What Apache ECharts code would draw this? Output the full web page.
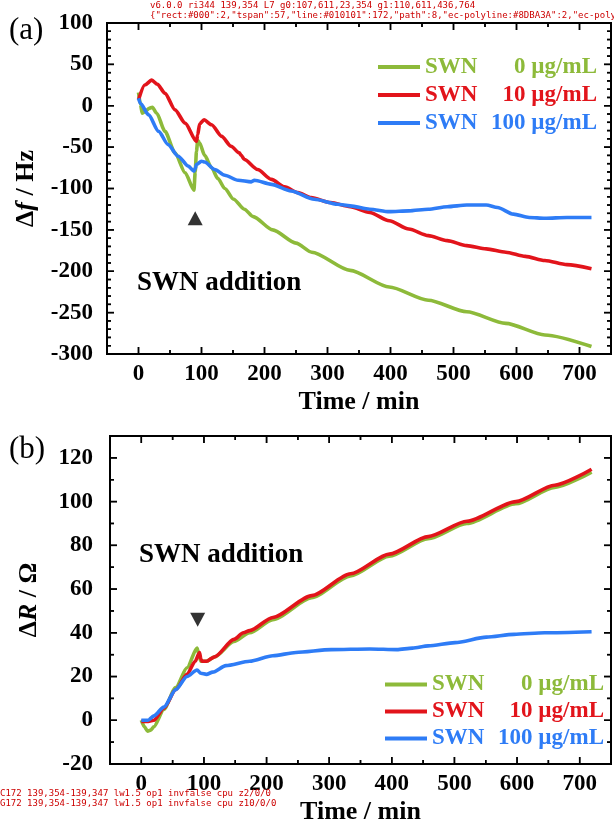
<!DOCTYPE html>
<html>
<head>
<meta charset="utf-8">
<script src="https://cdn.jsdelivr.net/npm/echarts@6/dist/echarts.min.js"></script>
<style>
  html, body { margin: 0; padding: 0; background: #ffffff; }
  #chart { width: 614px; height: 826px; }
  #dbg { position: absolute; left: 150px; top: 0; width: 464px; font: 9px monospace; line-height: 10px;
         color: #c00; white-space: pre; overflow: hidden; }
  #dbg2 { position: absolute; left: 0; top: 788px; width: 290px; font: 9px monospace; line-height: 10px;
         color: #c00; white-space: pre; overflow: hidden; }
</style>
</head>
<body>
<div id="chart"></div>
<div id="dbg"></div>
<div id="dbg2"></div>
<script>
const dbg = [];
window.addEventListener('error', e => dbg.push('E:' + e.message));

// ---- series names and legend labels ----
const seriesNames = ['SWN 0 µg/mL', 'SWN 10 µg/mL', 'SWN 100 µg/mL'];
const concLabels = ['0 µg/mL', '10 µg/mL', '100 µg/mL'];

// ---- axis ticks ----
const timeMajor = [0, 100, 200, 300, 400, 500, 600, 700];
const timeMinor = [50, 150, 250, 350, 450, 550, 650];
const freqMajor = [-300, -250, -200, -150, -100, -50, 0, 50, 100];
const freqMinor = [-290, -280, -270, -260, -240, -230, -220, -210, -190, -180, -170, -160,
  -140, -130, -120, -110, -90, -80, -70, -60, -40, -30, -20, -10, 10, 20, 30, 40, 60, 70, 80, 90];
const resMajor = [-20, 0, 20, 40, 60, 80, 100, 120];
const resMinor = [-10, 10, 30, 50, 70, 90, 110];

// ---- (a) frequency shift, Hz ----
const freq0 = [[0, 16], [3, 2], [6, -9], [12, -6], [17, -3], [22, -2], [29, -9], [42, -31], [58, -57],
  [74, -81], [88, -102], [90, -80], [92, -55], [94, -42], [97, -45], [105, -60], [116, -75],
  [126, -88], [137, -100], [151, -113], [168, -125], [182, -134], [213, -150], [250, -166],
  [275, -177], [336, -199], [398, -219], [460, -235], [521, -249], [583, -263], [645, -277], [719, -291]];
const freq10 = [[0, 7], [10, 25], [21, 31], [30, 26], [42, 15], [58, -5], [74, -21], [92, -43],
  [94, -35], [97, -22], [104, -17], [116, -23], [132, -37], [147, -49], [160, -57], [163, -60],
  [168, -65], [189, -77], [211, -89], [232, -98], [253, -105], [274, -111], [305, -117], [336, -122],
  [367, -129], [398, -139], [429, -149], [460, -157], [490, -163], [521, -169], [552, -173],
  [583, -177], [614, -182], [645, -187], [680, -192], [719, -197]];
const freq100 = [[0, 9], [3, 3], [16, -11], [32, -31], [47, -47], [63, -61], [79, -73], [88, -79],
  [90, -76], [92, -71], [100, -67], [105, -68], [121, -77], [137, -84], [158, -90], [179, -92],
  [184, -90], [211, -95], [242, -103], [279, -113], [316, -119], [336, -121], [367, -125],
  [398, -128], [429, -127], [460, -125], [490, -122], [521, -120], [552, -120], [570, -123],
  [595, -131], [620, -135], [645, -136], [680, -135], [719, -135]];

// ---- (b) resistance shift, Ohm ----
const res0 = [[0, 0], [5, -3], [10, -5], [15, -4.5], [20, -3], [36, 5], [55, 15], [73, 24], [89, 33],
  [91, 31], [95, 27], [104, 27], [117, 29], [148, 36], [173, 40], [210, 46], [272, 56], [334, 66],
  [396, 75], [458, 83], [520, 90], [598, 99], [660, 106.5], [719, 113.5]];
const res10 = [[0, -0.5], [11, -0.5], [20, 0], [36, 5.5], [55, 14], [73, 21], [86, 27], [93, 31],
  [95, 28], [97, 27], [104, 27], [117, 29], [148, 37], [163, 40], [173, 41], [210, 47], [272, 57],
  [334, 67], [396, 76], [458, 84], [520, 91], [598, 100], [660, 107.5], [719, 114.8]];
const res100 = [[0, 0], [11, 0], [20, 2], [36, 6], [55, 14], [73, 20], [89, 23], [95, 21.5],
  [104, 21], [114, 22], [135, 25], [173, 27], [210, 29.5], [247, 31], [303, 32.3], [365, 32.6],
  [408, 32.3], [433, 33], [458, 34], [501, 35.5], [551, 38], [595, 39.3], [644, 40], [719, 40.5]];

// ---- arrows marking the SWN addition ----
const additionA = [[90, -136]];
const additionB = [[90, 46]];

const lineColors = ['#8DBA3A', '#E2141B', '#2E7CF6'];
const FONT = 'Liberation Serif';
const MAJOR_LEN = 7, MINOR_LEN = 4;   // tick lengths in px

const panels = [
  { left: 107, right: 3, top: 23, height: 331, xMin: -50, xMax: 750, yMin: -300, yMax: 100,
    xMajor: timeMajor, xMinor: timeMinor, yMajor: freqMajor, yMinor: freqMinor },
  { left: 110, right: 3, top: 436, height: 331, xMin: -50, xMax: 750, yMin: -20, yMax: 130,
    xMajor: timeMajor, xMinor: timeMinor, yMajor: resMajor, yMinor: resMinor }
];

const chart = echarts.init(document.getElementById('chart'), null, { renderer: 'canvas' });

const nameRich = {
  n: { fontFamily: FONT, fontWeight: 'bold', fontSize: 26, color: '#000' },
  i: { fontFamily: FONT, fontWeight: 'bold', fontStyle: 'italic', fontSize: 26, color: '#000' }
};
const timeName = { fontFamily: FONT, fontWeight: 'bold', fontSize: 26, color: '#000' };
const labelStyle = { fontFamily: FONT, fontWeight: 'bold', fontSize: 23, color: '#000' };

function majorLabel(major) {
  return v => (major.indexOf(v) >= 0 ? String(v) : '');
}

function timeAxis(gridIndex) {
  const p = panels[gridIndex];
  return {
    type: 'value', gridIndex, position: 'bottom', min: p.xMin, max: p.xMax, interval: 50,
    axisLine: { show: false, onZero: false }, axisTick: { show: false }, splitLine: { show: false },
    axisLabel: Object.assign({ margin: 9, formatter: majorLabel(timeMajor) }, labelStyle),
    name: 'Time / min', nameLocation: 'middle', nameGap: 35, nameTextStyle: timeName
  };
}
function valueAxis(gridIndex, interval, major, name, margin) {
  const p = panels[gridIndex];
  return {
    type: 'value', gridIndex, position: 'left', min: p.yMin, max: p.yMax, interval,
    axisLine: { show: false, onZero: false }, axisTick: { show: false }, splitLine: { show: false },
    axisLabel: Object.assign({ margin, formatter: majorLabel(major) }, labelStyle),
    name, nameLocation: 'middle', nameGap: 68, nameTextStyle: { rich: nameRich }
  };
}

let riCalls = 0, riFirst = '';
function tickSeries(idx, dim, major, minor) {
  const p = panels[idx];
  const data = [];
  const add = (v, len) => {
    if (dim === 'x') { data.push([v, p.yMin, len]); data.push([v, p.yMax, -len]); }
    else { data.push([p.xMin, v, len]); data.push([p.xMax, v, -len]); }
  };
  major.forEach(v => add(v, MAJOR_LEN));
  minor.forEach(v => add(v, MINOR_LEN));
  return {
    type: 'custom', xAxisIndex: idx, yAxisIndex: idx, data,
    renderItem(params, api) {
      riCalls++;
      const pt = api.coord([api.value(0), api.value(1)]);
      const L = api.value(2);
      if (!riFirst) riFirst = Math.round(pt[0]) + ',' + Math.round(pt[1]) + ' L' + L;
      const shape = dim === 'x'
        ? { x1: pt[0], y1: pt[1], x2: pt[0], y2: pt[1] - L }
        : { x1: pt[0], y1: pt[1], x2: pt[0] + L, y2: pt[1] };
      return { type: 'line', shape, style: { stroke: '#010101', lineWidth: 1.5 } };
    }
  };
}

function lineSeries(name, data, color, axisIdx) {
  return {
    name, type: 'line', data, xAxisIndex: axisIdx, yAxisIndex: axisIdx,
    symbol: 'none', smooth: 0.25, smoothMonotone: 'x',
    lineStyle: { color, width: 3.6 }, itemStyle: { color }, z: 3
  };
}

function legendFor(left, top, lh) {
  const rs = { fontFamily: FONT, fontWeight: 'bold', fontSize: 23, lineHeight: lh };
  return {
    left, top, orient: 'vertical', icon: 'rect', itemWidth: 42, itemHeight: 4, itemGap: 0,
    selectedMode: false,
    data: seriesNames.map((n, i) => ({ name: n, textStyle: { color: lineColors[i] } })),
    formatter: n => '{s|SWN}{c|' + concLabels[seriesNames.indexOf(n)] + '}',
    textStyle: Object.assign({
      rich: {
        s: Object.assign({ width: 62, align: 'left' }, rs),
        c: Object.assign({ width: 110, align: 'right' }, rs)
      }
    }, rs)
  };
}

const gridFrame = { show: true, borderColor: '#000', borderWidth: 2 };

const textGraphics = [
  { id: 'ta', type: 'text', left: 9, top: 15, style: { text: '(a)', font: '31px "Liberation Serif"', fill: '#000' } },
  { id: 'tb', type: 'text', left: 9, top: 434, style: { text: '(b)', font: '31px "Liberation Serif"', fill: '#000' } },
  { id: 'sa', type: 'text', left: 137, top: 270, style: { text: 'SWN addition', font: 'bold 27px "Liberation Serif"', fill: '#000' } },
  { id: 'sb', type: 'text', left: 139, top: 542, style: { text: 'SWN addition', font: 'bold 27px "Liberation Serif"', fill: '#000' } }
];

const option = {
  animation: false,
  grid: panels.map(p => Object.assign({ left: p.left, right: p.right, top: p.top, height: p.height }, gridFrame)),
  xAxis: [timeAxis(0), timeAxis(1)],
  yAxis: [
    valueAxis(0, 50, freqMajor, '{n|Δ}{i|f}{n| / Hz}', 14),
    valueAxis(1, 10, resMajor, '{n|Δ}{i|R}{n| / Ω}', 17)
  ],
  legend: [legendFor(373, 48, 28), legendFor(380, 666, 27)],
  series: [
    tickSeries(0, 'x', timeMajor, timeMinor),
    tickSeries(0, 'y', freqMajor, freqMinor),
    tickSeries(1, 'x', timeMajor, timeMinor),
    tickSeries(1, 'y', resMajor, resMinor),
    lineSeries(seriesNames[0], freq0, lineColors[0], 0),
    lineSeries(seriesNames[1], freq10, lineColors[1], 0),
    lineSeries(seriesNames[2], freq100, lineColors[2], 0),
    lineSeries(seriesNames[0], res0, lineColors[0], 1),
    lineSeries(seriesNames[1], res10, lineColors[1], 1),
    lineSeries(seriesNames[2], res100, lineColors[2], 1),
    { type: 'scatter', data: additionA, xAxisIndex: 0, yAxisIndex: 0,
      symbol: 'triangle', symbolSize: [15, 14], itemStyle: { color: '#000' } },
    { type: 'scatter', data: additionB, xAxisIndex: 1, yAxisIndex: 1,
      symbol: 'triangle', symbolRotate: 180, symbolSize: [15, 14], itemStyle: { color: '#000' } }
  ],
  graphic: textGraphics
};

try { chart.setOption(option); } catch (e) { dbg.push('S1:' + e.message); }

// inward ticks on all four sides, positioned through each panel's axes
let pxInfo = '';
try {
  const tickEls = [];
  panels.forEach((p, gi) => {
    const px = v => chart.convertToPixel({ xAxisIndex: gi }, v);
    const py = v => chart.convertToPixel({ yAxisIndex: gi }, v);
    const L = px(p.xMin), R = px(p.xMax), B = py(p.yMin), T = py(p.yMax);
    pxInfo += ' g' + gi + ':' + [L, R, T, B].map(Math.round).join(',');
    const st = { stroke: '#000', lineWidth: 1.5 };
    const addX = (v, len) => {
      const x = px(v);
      tickEls.push({ type: 'line', silent: true, z: 10, shape: { x1: x, y1: B, x2: x, y2: B - len }, style: st });
      tickEls.push({ type: 'line', silent: true, z: 10, shape: { x1: x, y1: T, x2: x, y2: T + len }, style: st });
    };
    const addY = (v, len) => {
      const y = py(v);
      tickEls.push({ type: 'line', silent: true, z: 10, shape: { x1: L, y1: y, x2: L + len, y2: y }, style: st });
      tickEls.push({ type: 'line', silent: true, z: 10, shape: { x1: R, y1: y, x2: R - len, y2: y }, style: st });
    };
    p.xMajor.forEach(v => addX(v, MAJOR_LEN));
    p.xMinor.forEach(v => addX(v, MINOR_LEN));
    p.yMajor.forEach(v => addY(v, MAJOR_LEN));
    p.yMinor.forEach(v => addY(v, MINOR_LEN));
  });
  chart.setOption({ graphic: textGraphics.concat(tickEls) });
} catch (e) { dbg.push('S2:' + e.message); }

setTimeout(() => {
  try {
    const list = chart.getZr().storage.getDisplayList(true);
    const counts = {};
    list.forEach(el => { const k = el.type + (el.style && el.style.stroke ? ':' + el.style.stroke : ''); counts[k] = (counts[k] || 0) + 1; });
    dbg.push('v' + echarts.version + ' ri' + riCalls + ' ' + riFirst + pxInfo);
    dbg.push(JSON.stringify(counts).slice(0, 170));
    const describe = el => {
      const s = el.shape;
      return Math.round(s.x1) + ',' + Math.round(s.y1) + '-' + Math.round(s.x2) + ',' + Math.round(s.y2) +
        ' lw' + el.style.lineWidth + ' op' + el.style.opacity + ' inv' + el.invisible +
        ' cp' + (el.__clipPaths ? el.__clipPaths.length : 'u') + ' z' + el.z + '/' + el.z2 + '/' + el.zlevel;
    };
    const custom = list.filter(el => el.type === 'line' && el.style.stroke === '#010101');
    const gr = list.filter(el => el.type === 'line' && el.style.stroke === '#000');
    const d2 = [];
    d2.push('C' + custom.length + ' ' + (custom[0] ? describe(custom[0]) : ''));
    d2.push('G' + gr.length + ' ' + (gr[0] ? describe(gr[0]) : ''));
    if (custom[0] && custom[0].__clipPaths && custom[0].__clipPaths[0]) {
      const c = custom[0].__clipPaths[0].shape; d2.push('clip ' + JSON.stringify(c).slice(0, 60));
    }
    document.getElementById('dbg2').textContent = d2.join('\n');
  } catch (e) { dbg.push('X:' + e.message); }
  document.getElementById('dbg').textContent = dbg.join('\n');
}, 30);
</script>
</body>
</html>
